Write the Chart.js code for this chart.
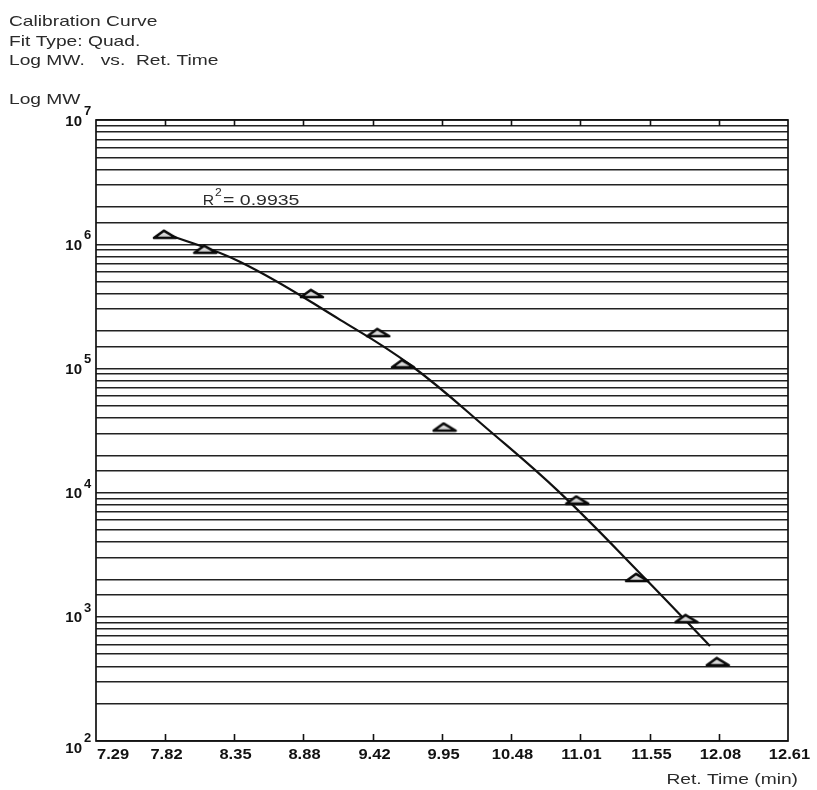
<!DOCTYPE html>
<html>
<head>
<meta charset="utf-8">
<title>Calibration Curve</title>
<script src="https://cdn.jsdelivr.net/npm/chart.js@4.4.1/dist/chart.umd.min.js"></script>
<style>
  html, body { margin: 0; padding: 0; background: #fff; }
  canvas { display: block; }
</style>
</head>
<body>
<canvas id="calChart" width="817" height="790"></canvas>
<script>
// ===============================
// Data
// ===============================
const retTimes = [7.82, 8.13, 8.95, 9.46, 9.65, 9.97, 10.99, 11.45, 11.83, 12.07];
const molWeights = [1.20e6, 9.1e5, 4.0e5, 1.94e5, 1.09e5, 3.37e4, 8.7e3, 2.07e3, 966, 435];

// fitted quadratic curve
const fitTimes = [7.82, 8.40, 9.17, 9.71, 10.32, 10.86, 11.50, 12.01];
const fitWeights = [1.22e6, 7.2e5, 2.45e5, 1.06e5, 3.12e4, 9.9e3, 2.09e3, 582];

const xTickLabels = ["7.29", "7.82", "8.35", "8.88", "9.42", "9.95", "10.48", "11.01", "11.55", "12.08", "12.61"];
const yTickExponents = [2, 3, 4, 5, 6, 7];

const headerLines = ["Calibration Curve", "Fit Type: Quad.", "Log MW.   vs.  Ret. Time"];
const rSquared = "0.9935";

const FONT = "'Liberation Sans', Arial, sans-serif";

// -------------------------------
// helpers
// -------------------------------

// draw text with a horizontal stretch (the scan is wider than plain Arial)
function drawText(ctx, text, x, y, font, sx, align) {
  ctx.save();
  ctx.font = font;
  ctx.textAlign = "left";
  ctx.textBaseline = "alphabetic";
  const w = ctx.measureText(text).width * sx;
  let left = x;
  if (align === "center") left = x - w / 2;
  if (align === "right") left = x - w;
  ctx.translate(left, y);
  ctx.scale(sx, 1);
  ctx.fillText(text, 0, 0);
  ctx.restore();
  return w;
}

// flat triangle marker used by the instrument software
function makeTriangle() {
  const c = document.createElement("canvas");
  c.width = 26;
  c.height = 11;
  const g = c.getContext("2d");
  g.beginPath();
  g.moveTo(2, 9);
  g.lineTo(24, 9);
  g.lineTo(12, 1.8);
  g.closePath();
  g.fillStyle = "#d8d8d8";
  g.fill();
  g.lineWidth = 2.6;
  g.strokeStyle = "#0a0a0a";
  g.lineJoin = "round";
  g.stroke();
  return c;
}

// -------------------------------
// plugin: frame, ticks and texts
// -------------------------------
const decorPlugin = {
  id: "decor",
  afterDraw(chart) {
    const ctx = chart.ctx;
    const area = chart.chartArea;
    const xs = chart.scales.x;
    const ys = chart.scales.y;

    ctx.save();
    ctx.fillStyle = "#2a2a2a";

    // header
    headerLines.forEach((line, i) => {
      drawText(ctx, line, 9, 26 + i * 19.5, "15px " + FONT, 1.28, "left");
    });
    drawText(ctx, "Log MW", 9, 104, "15px " + FONT, 1.28, "left");

    // frame
    ctx.strokeStyle = "#111";
    ctx.lineWidth = 1.7;
    ctx.strokeRect(area.left, area.top, area.right - area.left, area.bottom - area.top);

    // x ticks (inside, top and bottom)
    ctx.lineWidth = 1.6;
    xTickLabels.forEach((label, i) => {
      const px = Math.round(xs.getPixelForValue(parseFloat(label))) + 0.5;
      if (i > 0 && i < xTickLabels.length - 1) {
        ctx.beginPath();
        ctx.moveTo(px, area.top);
        ctx.lineTo(px, area.top + 6);
        ctx.moveTo(px, area.bottom);
        ctx.lineTo(px, area.bottom - 7);
        ctx.stroke();
      }
      ctx.fillStyle = "#111";
      if (i === 0) {
        drawText(ctx, label, area.left + 1, area.bottom + 18, "bold 15px " + FONT, 1.1, "left");
      } else {
        drawText(ctx, label, px + 1, area.bottom + 18, "bold 15px " + FONT, 1.1, "center");
      }
    });

    // y labels 10^n
    yTickExponents.forEach((exp, i) => {
      const py = ys.getPixelForValue(Math.pow(10, exp)) + (i === 0 ? 6 : 0);
      ctx.fillStyle = "#111";
      drawText(ctx, "10", 82, py + 5.5, "bold 15px " + FONT, 1.0, "right");
      drawText(ctx, String(exp), 84, py - 5, "bold 13px " + FONT, 1.0, "left");
    });

    // axis title
    ctx.fillStyle = "#2a2a2a";
    drawText(ctx, "Ret. Time (min)", area.right + 10, area.bottom + 43, "15px " + FONT, 1.28, "right");

    // R^2 note
    const rx = area.left + 118;
    const ry = area.top + 85;
    drawText(ctx, "R", rx, ry, "15px " + FONT, 1.05, "right");
    drawText(ctx, "2", rx + 1, ry - 9, "11px " + FONT, 1.1, "left");
    drawText(ctx, "= " + rSquared, rx + 9, ry, "15px " + FONT, 1.3, "left");

    ctx.restore();
  }
};

// ===============================
// Chart
// ===============================
function initCalibrationChart() {
  const canvas = document.getElementById("calChart");
  if (!canvas || !window.Chart) return;

  const triangle = makeTriangle();

  new Chart(canvas.getContext("2d"), {
    data: {
      datasets: [
        {
          type: "scatter",
          label: "Standards",
          data: retTimes.map((t, i) => ({ x: t, y: molWeights[i] })),
          pointStyle: triangle,
          order: 0
        },
        {
          type: "line",
          label: "Quad. fit",
          data: fitTimes.map((t, i) => ({ x: t, y: fitWeights[i] })),
          borderColor: "#111",
          borderWidth: 2.2,
          pointRadius: 0,
          tension: 0.4,
          fill: false,
          order: 1
        }
      ]
    },
    options: {
      responsive: false,
      animation: false,
      devicePixelRatio: 1,
      layout: {
        padding: { left: 96, top: 120, right: 29, bottom: 49 }
      },
      plugins: {
        legend: { display: false },
        tooltip: { enabled: false },
        title: { display: false }
      },
      scales: {
        x: {
          type: "linear",
          min: 7.29,
          max: 12.61,
          border: { display: false },
          grid: { display: false, drawTicks: false },
          ticks: { display: false }
        },
        y: {
          type: "logarithmic",
          min: 100,
          max: 1e7,
          border: { display: false },
          grid: {
            color: "rgba(15,15,15,0.92)",
            lineWidth: 1.4,
            drawTicks: false
          },
          ticks: { display: false }
        }
      }
    },
    plugins: [decorPlugin]
  });
}

document.addEventListener("DOMContentLoaded", () => {
  initCalibrationChart();
});
</script>
</body>
</html>
